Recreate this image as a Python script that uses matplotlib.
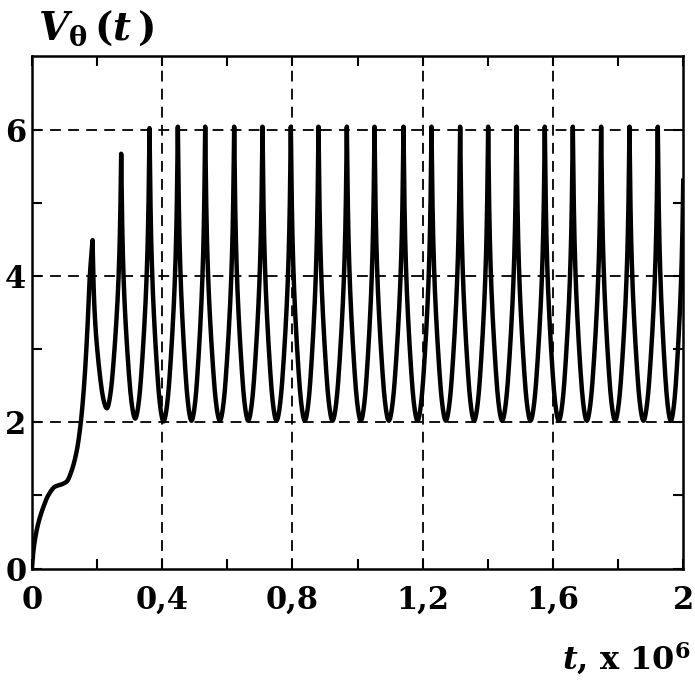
import numpy as np
import matplotlib
matplotlib.use("Agg")
import matplotlib.pyplot as plt
from matplotlib.ticker import FixedLocator, FixedFormatter

# ---------------- data ----------------
# initial ramp (t in units of 1e6, V)
ramp_t = [0.000, 0.003, 0.009, 0.0195, 0.035, 0.050, 0.071, 0.091, 0.107,
          0.122, 0.138, 0.150, 0.160, 0.170, 0.177, 0.186]
ramp_v = [0.00, 0.18, 0.39, 0.62, 0.84, 1.00, 1.12, 1.15, 1.19,
          1.34, 1.62, 2.00, 2.50, 3.25, 3.95, 4.49]

# peaks of the oscillation
peak_t = [0.186, 0.274, 0.361, 0.448, 0.532, 0.621, 0.708, 0.795, 0.880, 0.967,
          1.052, 1.141, 1.227, 1.315, 1.401, 1.488, 1.575, 1.661, 1.748, 1.835,
          1.922, 2.002]
peak_v = [4.49, 5.67, 6.02, 6.04, 6.04, 6.04, 6.04, 6.04, 6.04, 6.04,
          6.04, 6.04, 6.04, 6.04, 6.04, 6.04, 6.04, 6.04, 6.04, 6.04,
          6.04, 6.04]
# troughs between consecutive peaks
trough_t = [0.230, 0.317, 0.404, 0.490, 0.577, 0.664, 0.751, 0.838, 0.923, 1.010,
            1.096, 1.184, 1.271, 1.358, 1.444, 1.531, 1.618, 1.704, 1.791, 1.878,
            1.962]
trough_v = [2.19, 2.05, 2.01, 2.02, 2.02, 2.02, 2.02, 2.02, 2.02, 2.02,
            2.02, 2.02, 2.02, 2.02, 2.02, 2.02, 2.02, 2.02, 2.02, 2.02,
            2.02]

# shape of one half-cycle:
# fraction of the way from peak to trough (0 = peak, 1 = trough)
# vs. fraction of the peak-trough swing still remaining
shape_u = [0.00, 0.03, 0.07, 0.12, 0.18, 0.25, 0.35, 0.45, 0.55, 0.65, 0.75, 0.85, 0.93, 1.00]
shape_f = [1.00, 0.88, 0.74, 0.62, 0.52, 0.43, 0.33, 0.245, 0.17, 0.105, 0.057, 0.023, 0.006, 0.00]

x_ticks = [0, 0.4, 0.8, 1.2, 1.6, 2.0]
x_ticklabels = ["0", "0,4", "0,8", "1,2", "1,6", "2"]
y_ticks = [0, 2, 4, 6]
y_ticklabels = ["0", "2", "4", "6"]


# ---------------- drawing helpers ----------------
def pchip(xk, yk, xs, end_slope=None):
    xk = np.asarray(xk, float); yk = np.asarray(yk, float)
    xs = np.asarray(xs, float)
    h = np.diff(xk); d = np.diff(yk) / h
    m = np.zeros_like(yk)
    for i in range(1, len(xk) - 1):
        if d[i - 1] * d[i] > 0:
            w1 = 2 * h[i] + h[i - 1]; w2 = h[i] + 2 * h[i - 1]
            m[i] = (w1 + w2) / (w1 / d[i - 1] + w2 / d[i])
    m[0] = d[0]
    m[-1] = d[-1] if end_slope is None else end_slope
    idx = np.clip(np.searchsorted(xk, xs) - 1, 0, len(xk) - 2)
    t = (xs - xk[idx]) / h[idx]
    h00 = 2 * t**3 - 3 * t**2 + 1; h10 = t**3 - 2 * t**2 + t
    h01 = -2 * t**3 + 3 * t**2; h11 = t**3 - t**2
    return (h00 * yk[idx] + h10 * h[idx] * m[idx] + h01 * yk[idx + 1]
            + h11 * h[idx] * m[idx + 1])


def profile(u):
    return pchip(shape_u, shape_f, u, end_slope=0.0)


ts, vs = [], []
tr = np.linspace(ramp_t[0], ramp_t[-1], 400)
ts.append(tr); vs.append(pchip(ramp_t, ramp_v, tr))
for i in range(len(trough_t)):
    t = np.linspace(peak_t[i], trough_t[i], 150)
    u = (t - peak_t[i]) / (trough_t[i] - peak_t[i])
    ts.append(t); vs.append(trough_v[i] + (peak_v[i] - trough_v[i]) * profile(u))
    t = np.linspace(trough_t[i], peak_t[i + 1], 150)
    u = (peak_t[i + 1] - t) / (peak_t[i + 1] - trough_t[i])
    ts.append(t); vs.append(trough_v[i] + (peak_v[i + 1] - trough_v[i]) * profile(u))
T = np.concatenate(ts); V = np.concatenate(vs)

# ---------------- figure ----------------
plt.rcParams['mathtext.fontset'] = 'custom'
plt.rcParams['mathtext.rm'] = 'DejaVu Serif:bold'
plt.rcParams['mathtext.it'] = 'DejaVu Serif:italic:bold'
plt.rcParams['mathtext.bf'] = 'DejaVu Serif:bold'

fig = plt.figure(figsize=(6.95, 6.82), dpi=100)
ax = fig.add_axes([0.046, 0.1664, 0.937, 0.7508])

ax.plot(T, V, color='black', lw=3.2, solid_joinstyle='round')

ax.set_xlim(0, 2)
ax.set_ylim(0, 7)

ax.xaxis.set_major_locator(FixedLocator(x_ticks))
ax.xaxis.set_major_formatter(FixedFormatter(x_ticklabels))
ax.xaxis.set_minor_locator(FixedLocator([0.2, 0.6, 1.0, 1.4, 1.8]))
ax.yaxis.set_major_locator(FixedLocator(y_ticks))
ax.yaxis.set_major_formatter(FixedFormatter(y_ticklabels))
ax.yaxis.set_minor_locator(FixedLocator([1, 3, 5]))

for lab in ax.get_xticklabels() + ax.get_yticklabels():
    lab.set_fontfamily('DejaVu Serif')
    lab.set_fontweight('bold')
    lab.set_fontsize(22)

ax.tick_params(which='both', direction='in', top=True, right=True,
               width=1.5, length=7, color='black')
ax.tick_params(axis='x', which='major', pad=12)
ax.tick_params(axis='y', which='major', pad=4)

for s in ax.spines.values():
    s.set_linewidth(1.8)
    s.set_color('black')

for xv in [0.4, 0.8, 1.2, 1.6]:
    ax.axvline(xv, color='black', lw=1.3, ls=(0, (6, 4)), zorder=1)
for yv in [2, 4, 6]:
    ax.axhline(yv, color='black', lw=1.3, ls=(0, (6, 4)), zorder=1)

fig.text(0.055, 0.93, r'$V_{\mathrm{\theta}}\,(t\,)$', fontsize=28,
         fontfamily='DejaVu Serif', fontweight='bold', ha='left', va='bottom')
fig.text(0.993, 0.008, r'$t$, x 10$^{6}$', fontsize=23,
         fontfamily='DejaVu Serif', fontweight='bold', ha='right', va='bottom')

fig.savefig('out.png', dpi=100, facecolor='white')
